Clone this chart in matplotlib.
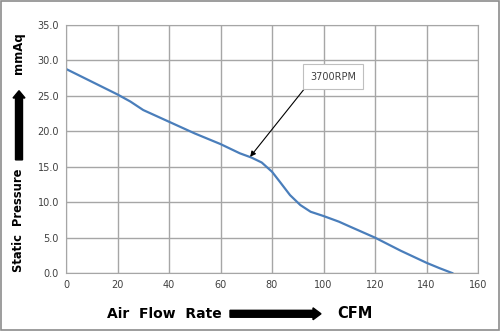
import matplotlib
matplotlib.use("Agg")
import matplotlib.pyplot as plt
from matplotlib.patches import FancyArrow, Rectangle

# fan curve
airflow = [0, 10, 20, 25, 30, 40, 50, 60, 67.5, 72, 76, 80, 83, 87, 91, 95,
           100, 106, 110, 115, 120, 130, 140, 145, 150]
pressure = [28.8, 27.0, 25.2, 24.2, 23.0, 21.35, 19.7, 18.2, 16.9, 16.3, 15.6, 14.3, 12.9, 11.0, 9.6, 8.65,
            8.05, 7.25, 6.6, 5.8, 5.0, 3.15, 1.45, 0.7, 0.0]
x_ticks = [0, 20, 40, 60, 80, 100, 120, 140, 160]
y_ticks = [0, 5, 10, 15, 20, 25, 30, 35]
speed_label = "3700RPM"

fig = plt.figure(figsize=(5, 3.31), dpi=100)
ax = fig.add_axes([0.132, 0.175, 0.824, 0.7495])

ax.plot(airflow, pressure, color="#4A7EBB", lw=1.6)
ax.set_xlim(0, 160)
ax.set_ylim(0, 35)
ax.set_xticks(x_ticks)
ax.set_yticks(y_ticks)
ax.set_yticklabels(["%.1f" % v for v in y_ticks])
ax.grid(True, color="#A6A6A6", lw=1.0)
ax.set_axisbelow(True)
for s in ax.spines.values():
    s.set_color("#A6A6A6")
ax.tick_params(length=0, labelsize=7, labelcolor="#404040", pad=5)

ax.annotate(speed_label, xy=(71.5, 16.4), xytext=(103.7, 27.7),
            fontsize=7, color="#404040", ha="center", va="center",
            bbox=dict(boxstyle="square,pad=0.75", fc="white", ec="#BFBFBF", lw=0.8),
            arrowprops=dict(arrowstyle="-|>", color="black", lw=0.8, relpos=(0, 0),
                            shrinkA=0, shrinkB=0, mutation_scale=8))

# axis titles drawn with block arrows like the original
fig.text(0.037, 0.335, "Static  Pressure", rotation=90, ha="center", va="center",
         fontsize=8.3, fontweight="bold")
fig.text(0.037, 0.84, "mmAq", rotation=90, ha="center", va="center",
         fontsize=8.5, fontweight="bold")
fig.patches.append(FancyArrow(0.038, 0.517, 0, 0.209, width=0.014,
                              head_width=0.024, head_length=0.022, color="black",
                              transform=fig.transFigure, length_includes_head=True))
fig.text(0.328, 0.052, "Air  Flow  Rate", ha="center", va="center",
         fontsize=10, fontweight="bold")
fig.text(0.71, 0.052, "CFM", ha="center", va="center", fontsize=10.5, fontweight="bold")
fig.patches.append(FancyArrow(0.46, 0.052, 0.182, 0, width=0.021,
                              head_width=0.036, head_length=0.016, color="black",
                              transform=fig.transFigure, length_includes_head=True))

fig.patches.append(Rectangle((0.002, 0.003), 0.995, 0.994, fill=False,
                             ec="#8C8C8C", lw=1.2, transform=fig.transFigure))

fig.savefig("out.png", dpi=100)
